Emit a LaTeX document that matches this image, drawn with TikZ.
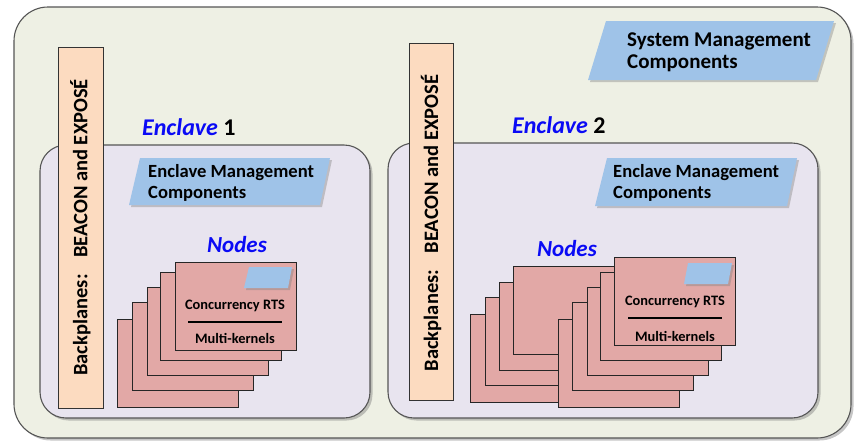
\documentclass[tikz,border=0pt]{standalone}
\usepackage{fontspec}
\setmainfont{Carlito}
\usetikzlibrary{shadows}
\definecolor{outerbg}{HTML}{EEF0E4}
\definecolor{enclbg}{HTML}{E8E4EF}
\definecolor{peach}{HTML}{FCDBC0}
\definecolor{paleblue}{HTML}{9FC3E8}
\definecolor{cardpink}{HTML}{E2A8A6}
\definecolor{tblue}{HTML}{0A0AF5}
\definecolor{edgegray}{HTML}{555555}
\tikzset{
  bigbox/.style={draw=edgegray, line width=1.1pt, rounded corners=#1,
    drop shadow={shadow xshift=2.5pt, shadow yshift=-2.5pt, opacity=0.45}},
  outerbox/.style={bigbox=34pt, fill=outerbg},
  enclbox/.style={bigbox=26pt, fill=enclbg},
  backbar/.style={draw=black!80, line width=0.8pt, fill=peach},
  mgmt/.style={fill=paleblue, drop shadow={shadow xshift=2pt, shadow yshift=-2pt, opacity=0.4}},
  cardbox/.style={draw=black!85, line width=0.8pt, fill=cardpink, anchor=north west,
    minimum width=121pt, minimum height=88pt, inner sep=0pt},
  mgmttext/.style={anchor=west, align=left, inner sep=0pt, font=\bfseries\fontsize{18.6}{20.5}\selectfont},
  sysmgmttext/.style={anchor=west, align=left, inner sep=0pt, font=\bfseries\fontsize{21}{22}\selectfont},
  bartext/.style={rotate=90, inner sep=0pt, font=\bfseries\fontsize{20.5}{24}\selectfont},
  encltext/.style={anchor=base west, inner sep=0pt, font=\bfseries\fontsize{24}{28}\selectfont},
  nodestext/.style={inner sep=0pt, text=tblue, font=\bfseries\itshape\fontsize{23}{26}\selectfont},
  cardtext/.style={inner sep=0pt, font=\bfseries\fontsize{14.4}{16}\selectfont},
  sepline/.style={line width=1.6pt, black},
}
\begin{document}
\begin{tikzpicture}[x=1pt,y=-1pt]
\useasboundingbox (0,0) rectangle (856,440);
\begin{scope}
\clip (0,0) rectangle (856,440);
% outer system box
\draw[outerbox] (14,7) rectangle (851,438);

% enclave boxes
\draw[enclbox] (40,145) rectangle (370,418);
\draw[enclbox] (388,143) rectangle (818,418);

% backplanes
\node[backbar, minimum width=45pt, minimum height=361pt, inner sep=0pt] (bp1) at (80.5,227.5) {};
\node[bartext] (bp1t) at (80.5,227.5) {Backplanes:\hspace{0.5em} BEACON and EXPOSÉ};
\node[backbar, minimum width=44pt, minimum height=357pt, inner sep=0pt] (bp2) at (431,221.5) {};
\node[bartext] (bp2t) at (431,223) {Backplanes:\hspace{0.5em} BEACON and EXPOSÉ};

% system management
\fill[mgmt] (606,21) -- (834,21) -- (816,80) -- (588,80) -- cycle;
\node[sysmgmttext] (sysm) at (627,52) {System Management\\Components};

% enclave labels
\node[encltext] (e1) at (142,135) {\textcolor{tblue}{\itshape Enclave} 1};
\node[encltext] (e2) at (512,133) {\textcolor{tblue}{\itshape Enclave} 2};

% enclave management
\fill[mgmt] (140,158) -- (330,158) -- (320,205) -- (129,205) -- cycle;
\node[mgmttext] (em1) at (148,183) {Enclave Management\\Components};
\fill[mgmt] (607,158) -- (797,158) -- (787,206) -- (595,206) -- cycle;
\node[mgmttext] (em2) at (613,183) {Enclave Management\\Components};

% Nodes, enclave 1
\node[nodestext] (nl1) at (237,245) {Nodes};
\node[cardbox] (a1) at (117,319) {};
\node[cardbox] (a2) at (132,302) {};
\node[cardbox] (a3) at (147,287) {};
\node[cardbox] (a4) at (160,272) {};
\node[cardbox] (a5) at (175,262) {};
\fill[mgmt] (249,267) -- (292,267) -- (288,288) -- (244,288) -- cycle;
\node[cardtext] (c1) at (235,306) {Concurrency RTS};
\draw[sepline] (188,322) -- (282,322);
\node[cardtext] (k1) at (235,338) {Multi-kernels};

% Nodes, enclave 2
\node[nodestext] (nl2) at (567,249) {Nodes};
\node[cardbox] (l1) at (470,314) {};
\node[cardbox] (l2) at (485,297) {};
\node[cardbox] (l3) at (499,282) {};
\node[cardbox] (l4) at (513,266) {};
\node[cardbox] (r1) at (558,319) {};
\node[cardbox] (r2) at (572,302) {};
\node[cardbox] (r3) at (587,287) {};
\node[cardbox] (r4) at (600,272) {};
\node[cardbox] (r5) at (614,257) {};
\fill[mgmt] (688,263) -- (732,263) -- (728,284) -- (684,284) -- cycle;
\node[cardtext] (c2) at (675,302) {Concurrency RTS};
\draw[sepline] (628,318) -- (722,318);
\node[cardtext] (k2) at (675,336) {Multi-kernels};
\end{scope}
\end{tikzpicture}
\end{document}
